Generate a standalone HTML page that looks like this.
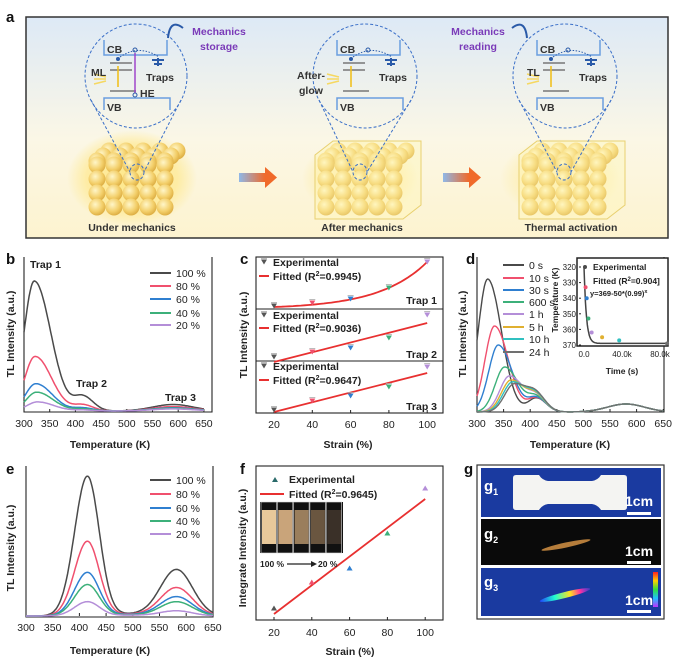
<!DOCTYPE html>
<html><head><meta charset="utf-8"><style>
html,body{margin:0;padding:0;background:#fff;}
svg{display:block;font-family:"Liberation Sans",Arial,sans-serif;}
.t{font-size:10.5px;font-weight:bold;fill:#222;}
.tk{font-size:10.5px;fill:#222;}
.L{font-size:15px;font-weight:bold;fill:#111;}
.ax{fill:none;stroke:#222;stroke-width:1.1;}
.bl{font-size:10.5px;font-weight:bold;fill:#333;}
</style></head><body>
<svg id="s" width="677" height="663" viewBox="0 0 677 663" xmlns="http://www.w3.org/2000/svg">
<defs>
<linearGradient id="bg" x1="0" y1="0" x2="0" y2="1"><stop offset="0" stop-color="#dde9f6"/><stop offset="0.55" stop-color="#fbf7e6"/><stop offset="1" stop-color="#fdf3cf"/></linearGradient>
<radialGradient id="sp" cx="0.4" cy="0.35" r="0.7"><stop offset="0" stop-color="#fff6c8"/><stop offset="0.6" stop-color="#f3cf6a"/><stop offset="1" stop-color="#d9a83c"/></radialGradient>
<radialGradient id="glow" cx="0.5" cy="0.5" r="0.5"><stop offset="0" stop-color="#ffe680" stop-opacity="0.9"/><stop offset="0.7" stop-color="#ffe680" stop-opacity="0.6"/><stop offset="1" stop-color="#ffe680" stop-opacity="0"/></radialGradient>
<linearGradient id="arr" x1="0" x2="1"><stop offset="0" stop-color="#8fb8e8"/><stop offset="1" stop-color="#f06a2a"/></linearGradient>
<linearGradient id="rb" x1="0" y1="0" x2="0" y2="1"><stop offset="0" stop-color="#ff2020"/><stop offset="0.25" stop-color="#ffd000"/><stop offset="0.5" stop-color="#30e040"/><stop offset="0.75" stop-color="#20c0ff"/><stop offset="1" stop-color="#c030ff"/></linearGradient>
<linearGradient id="st" x1="0" x2="1"><stop offset="0" stop-color="#2040ff"/><stop offset="0.3" stop-color="#20ffd0"/><stop offset="0.6" stop-color="#ffe020"/><stop offset="0.8" stop-color="#ff30a0"/><stop offset="1" stop-color="#a040ff" stop-opacity="0.3"/></linearGradient>
<marker id="ah" viewBox="0 0 6 6" refX="3" refY="3" markerWidth="5" markerHeight="5" orient="auto"><path d="M0,0L6,3L0,6z" fill="#222"/></marker>
</defs>
<rect width="677" height="663" fill="#fff"/>

<!-- Panel a -->
<text class="L" x="6" y="22">a</text>
<rect x="26" y="17" width="642" height="221" fill="url(#bg)" stroke="#333" stroke-width="1.5"/>
<ellipse cx="132" cy="178" rx="65" ry="48" fill="url(#glow)"/>
<ellipse cx="360" cy="178" rx="58" ry="40" fill="url(#glow)" opacity="0.6"/>
<ellipse cx="560" cy="178" rx="60" ry="40" fill="url(#glow)" opacity="0.5"/>
<g id="lat"></g>
<rect x="239" y="173" width="26" height="9" fill="url(#arr)"/><path d="M265,167L277,177.5L265,188z" fill="#f06a2a"/>
<rect x="443" y="173" width="26" height="9" fill="url(#arr)"/><path d="M469,167L481,177.5L469,188z" fill="#f06a2a"/>
<g id="mags" fill="none" stroke="#3a6fc8" stroke-width="1" stroke-dasharray="3,2"></g>
<g id="bands"></g>
<text class="bl" x="132" y="231" text-anchor="middle">Under mechanics</text>
<text class="bl" x="362" y="231" text-anchor="middle">After mechanics</text>
<text class="bl" x="571" y="231" text-anchor="middle">Thermal  activation</text>
<text x="219" y="35" text-anchor="middle" font-size="10.5" font-weight="bold" fill="#7a3ab8">Mechanics</text>
<text x="219" y="50" text-anchor="middle" font-size="10.5" font-weight="bold" fill="#7a3ab8">storage</text>
<text x="478" y="35" text-anchor="middle" font-size="10.5" font-weight="bold" fill="#7a3ab8">Mechanics</text>
<text x="478" y="50" text-anchor="middle" font-size="10.5" font-weight="bold" fill="#7a3ab8">reading</text>
<path d="M168,38 Q170,18 183,28" fill="none" stroke="#2a5aa8" stroke-width="2"/>
<path d="M527,38 Q525,18 512,28" fill="none" stroke="#2a5aa8" stroke-width="2"/>

<!-- Panel b -->
<text class="L" x="6" y="264">b</text>
<path class="ax" d="M24,257V412H212V257"/>
<text class="t" transform="translate(14,334) rotate(-90)" text-anchor="middle">TL Intensity (a.u.)</text>
<text class="t" x="110" y="448" text-anchor="middle">Temperature (K)</text>
<g id="bt"></g><g id="bc"></g>
<text class="t" x="30" y="268">Trap 1</text>
<text class="t" x="76" y="387">Trap 2</text>
<text class="t" x="165" y="401">Trap 3</text>
<g id="bleg"></g>

<!-- Panel c -->
<text class="L" x="240" y="264">c</text>
<rect class="ax" x="256" y="257" width="187" height="156"/>
<line class="ax" x1="256" y1="309" x2="443" y2="309"/><line class="ax" x1="256" y1="361" x2="443" y2="361"/>
<text class="t" transform="translate(247,335) rotate(-90)" text-anchor="middle">TL Intensity (a.u.)</text>
<text class="t" x="348" y="448" text-anchor="middle">Strain (%)</text>
<g id="cc"></g>
<text class="t" x="437" y="304" text-anchor="end" font-size="11">Trap 1</text>
<text class="t" x="437" y="358" text-anchor="end" font-size="11">Trap 2</text>
<text class="t" x="437" y="410" text-anchor="end" font-size="11">Trap 3</text>

<!-- Panel d -->
<text class="L" x="466" y="264">d</text>
<path class="ax" d="M477,257V412H664V257"/>
<text class="t" transform="translate(466,334) rotate(-90)" text-anchor="middle">TL Intensity (a.u.)</text>
<text class="t" x="570" y="448" text-anchor="middle">Temperature (K)</text>
<g id="dt"></g><g id="dc"></g><g id="dleg"></g>
<rect x="577" y="258" width="91" height="88" fill="#fff" stroke="#222" stroke-width="1.5"/>
<g id="di"></g>
<text x="593" y="270" font-size="8.5" fill="#222" font-weight="bold">Experimental</text>
<text x="593" y="284" font-size="8.5" fill="#222" font-weight="bold">Fitted (R<tspan font-size="6" dy="-3">2</tspan><tspan dy="3">=0.904]</tspan></text>
<text x="590" y="296" font-size="7.5" fill="#222" font-weight="bold">y=369-50*(0.99)<tspan font-size="5.5" dy="-3">x</tspan></text>
<text transform="translate(558,300) rotate(-90)" text-anchor="middle" font-size="8.5" font-weight="bold" fill="#222">Temperature (K)</text>
<text x="622" y="374" text-anchor="middle" font-size="8.5" font-weight="bold" fill="#222">Time (s)</text>

<!-- Panel e -->
<text class="L" x="6" y="474">e</text>
<path class="ax" d="M26,466V617H213V466"/>
<text class="t" transform="translate(14,548) rotate(-90)" text-anchor="middle">TL Intensity (a.u.)</text>
<text class="t" x="110" y="654" text-anchor="middle">Temperature (K)</text>
<g id="et"></g><g id="ec"></g><g id="eleg"></g>

<!-- Panel f -->
<text class="L" x="240" y="474">f</text>
<rect class="ax" x="256" y="466" width="187" height="154"/>
<text class="t" transform="translate(246,548) rotate(-90)" text-anchor="middle">Integrate Intensity (a.u.)</text>
<text class="t" x="350" y="655" text-anchor="middle">Strain (%)</text>
<g id="fc"></g>
<text class="t" x="289" y="483">Experimental</text>
<line x1="260" y1="494" x2="284" y2="494" stroke="#e83030" stroke-width="2"/>
<text class="t" x="289" y="498">Fitted (R<tspan font-size="7" dy="-4">2</tspan><tspan dy="4">=0.9645)</tspan></text>
<g id="photo"></g>
<text x="260" y="567" font-size="8.5" font-weight="bold" fill="#222">100 %</text>
<line x1="287" y1="564" x2="314" y2="564" stroke="#222" stroke-width="1.2" marker-end="url(#ah)"/>
<text x="318" y="567" font-size="8.5" font-weight="bold" fill="#222">20 %</text>

<!-- Panel g -->
<text class="L" x="464" y="474">g</text>
<rect x="477" y="465" width="187" height="154" fill="#fff" stroke="#333" stroke-width="1.2"/>
<rect x="481" y="468" width="180" height="49" fill="#1a3aa0"/>
<rect x="481" y="519" width="180" height="46" fill="#0a0a0a"/>
<rect x="481" y="568" width="180" height="48" fill="#1a3aa0"/>
<path d="M516,475H539Q542,480 548,481H592Q598,480 601,475H624Q627,475 627,478V507Q627,510 624,510H601Q598,505 592,504H548Q542,505 539,510H516Q513,510 513,507V478Q513,475 516,475z" fill="#f4f4f2"/>
<text x="484" y="491" font-size="15" font-weight="bold" fill="#fff">g<tspan font-size="9" dy="4">1</tspan></text>
<text x="484" y="539" font-size="15" font-weight="bold" fill="#fff">g<tspan font-size="9" dy="4">2</tspan></text>
<text x="484" y="587" font-size="15" font-weight="bold" fill="#fff">g<tspan font-size="9" dy="4">3</tspan></text>
<text x="625" y="506" font-size="14" font-weight="bold" fill="#fff">1cm</text>
<rect x="627" y="512" width="24" height="3" fill="#fff"/>
<text x="625" y="556" font-size="14" font-weight="bold" fill="#fff">1cm</text>
<rect x="627" y="561" width="24" height="3" fill="#fff"/>
<text x="625" y="605" font-size="14" font-weight="bold" fill="#fff">1cm</text>
<rect x="627" y="610" width="24" height="3" fill="#fff"/>
<ellipse cx="566" cy="545" rx="25" ry="2.5" fill="#c88a40" transform="rotate(-12 566 545)" opacity="0.9"/>
<ellipse cx="565" cy="595" rx="26" ry="3" fill="url(#st)" transform="rotate(-14 565 595)"/>
<rect x="653" y="572" width="5" height="35" fill="url(#rb)"/>
</svg>
<script>
var NS="http://www.w3.org/2000/svg";
function el(p,t,a,txt){var e=document.createElementNS(NS,t);for(var k in a)e.setAttribute(k,a[k]);if(txt!=null)e.textContent=txt;document.getElementById(p).appendChild(e);return e;}
function ag(x,m,sl,sr){var s=x<m?sl:sr;return Math.exp(-(x-m)*(x-m)/(2*s*s));}
function path(f,X,a,b){var d="";for(var T=a;T<=b;T+=2){d+=(d?"L":"M")+X(T).toFixed(1)+","+f(T).toFixed(1);}return d;}
function lattice(x0,y0,box){
 for(var k=2;k>=0;k--){for(var c=0;c<5;c++){el("lat","circle",{cx:x0+c*17+k*6+8,cy:y0-k*5+8,r:8.5,fill:"url(#sp)"});}}
 for(var r=0;r<4;r++){for(var c=0;c<5;c++){el("lat","circle",{cx:x0+c*17+8,cy:y0+8+r*14+4,r:8.5,fill:"url(#sp)"});}}
 if(box){el("lat","path",{d:"M"+(x0-3)+","+(y0+2)+"l18,-14h88l0,64l-18,14h-88z",fill:"#fff6b0","fill-opacity":0.35,stroke:"#e8d070","stroke-width":1});}
}
lattice(89,153,false);lattice(318,153,true);lattice(522,153,true);
[[136,137],[365,360],[565,564]].forEach(function(p,i){
 var cx=p[0],sx=p[1];
 var rx=i==0?51:52;
 el("mags","ellipse",{cx:cx,cy:76,rx:rx,ry:52});
 el("mags","ellipse",{cx:sx,cy:172,rx:7,ry:8});
 el("mags","line",{x1:cx-rx+6,y1:100,x2:sx-7,y2:172});
 el("mags","line",{x1:cx+rx-6,y1:100,x2:sx+7,y2:172});
 var L=(i==0?104:cx-28);
 el("bands","path",{d:"M"+L+",40V55H"+(L+63)+"V40",fill:"none",stroke:"#6a9ee0","stroke-width":1.5});
 el("bands","path",{d:"M"+L+",110V98H"+(L+66)+"V110",fill:"none",stroke:"#6a9ee0","stroke-width":1.5});
 el("bands","text",{x:L+3,y:53,"class":"bl"},"CB");
 el("bands","text",{x:L+3,y:111,"class":"bl"},"VB");
 el("bands","line",{x1:L+6,y1:63,x2:L+28,y2:63,stroke:"#777","stroke-width":1.5});
 el("bands","line",{x1:L+6,y1:70,x2:L+28,y2:70,stroke:"#777","stroke-width":1.5});
 el("bands","line",{x1:L+6,y1:91,x2:L+32,y2:91,stroke:"#777","stroke-width":1.5});
 el("bands","line",{x1:L+14,y1:66,x2:L+14,y2:87,stroke:"#f0c020","stroke-width":1.6});
 el("bands","circle",{cx:L+14,cy:59,r:2,fill:"#2a5aa8"});
 el("bands","circle",{cx:L+31,cy:50,r:2,fill:"none",stroke:"#2a5aa8"});
 el("bands","path",{d:"M"+(L+16)+",57Q"+(L+35)+",44 "+(L+55)+",57",fill:"none",stroke:"#2a5aa8","stroke-dasharray":"1.5,1.5"});
 el("bands","path",{d:"M"+(L+48)+",60h12M"+(L+50)+",64h8M"+(L+54)+",58v8",stroke:"#2a5aa8","stroke-width":2});
 el("bands","text",{x:L+42,y:81,"class":"bl"},"Traps");
 el("bands","path",{d:"M"+(L+2)+",77l-12,-3M"+(L+2)+",79l-12,0M"+(L+2)+",81l-12,3",stroke:"#f6d860","stroke-width":1.5});
 if(i==0){el("bands","line",{x1:L+31,y1:93,x2:L+31,y2:53,stroke:"#9a3ac8","stroke-width":1.4});
   el("bands","circle",{cx:L+31,cy:95,r:2,fill:"none",stroke:"#2a5aa8"});
   el("bands","text",{x:L-13,y:76,"class":"bl"},"ML");el("bands","text",{x:L+36,y:97,"class":"bl"},"HE");}
 if(i==1){el("bands","text",{x:L-40,y:79,"class":"bl"},"After-");el("bands","text",{x:L-38,y:94,"class":"bl"},"glow");}
 if(i==2){el("bands","text",{x:L-10,y:76,"class":"bl"},"TL");}
});
var C5=["#4a4a4a","#f0506e","#2f7fd0","#3cb07a","#b48ed8"],P5=["100 %","80 %","60 %","40 %","20 %"];
function ticks(g,X,y){for(var T=300;T<=650;T+=50){el(g,"line",{x1:X(T),y1:y,x2:X(T),y2:y-3,stroke:"#222"});el(g,"text",{x:X(T),y:y+15,"class":"tk","text-anchor":"middle"},T);}}
function leg(g,x,ys,cols,labs){ys.forEach(function(y,i){el(g,"line",{x1:x,y1:y,x2:x+21,y2:y,stroke:cols[i],"stroke-width":2});el(g,"text",{x:x+26,y:y+4,"class":"tk"},labs[i]);});}
var Xb=function(T){return 24+(T-300)*0.514;};
ticks("bt",Xb,412);
[1,0.42,0.21,0.145,0.07].forEach(function(s,i){
 var A=130*s,pk=320+i*1.5;
 el("bc","path",{d:path(function(T){return 411-A*ag(T,pk,20,32)-A*0.11*ag(T,415,18,20)-(6*Math.sqrt(s)+0.5)*ag(T,590,40,40);},Xb,300,650),fill:"none",stroke:C5[i],"stroke-width":1.5});});
leg("bleg",150,[273,286,299,313,325],C5,P5);
var Xc=function(s){return 274+(s-20)*1.915;};
[20,40,60,80,100].forEach(function(s){el("cc","line",{x1:Xc(s),y1:413,x2:Xc(s),y2:410,stroke:"#222"});el("cc","text",{x:Xc(s),y:428,"class":"tk","text-anchor":"middle"},s);});
var d1="";for(var s=20;s<=100;s+=2){d1+=(d1?"L":"M")+Xc(s).toFixed(1)+","+(307-1.915*(Math.exp(0.04*(s-20))-1)).toFixed(1);}
el("cc","path",{d:d1,fill:"none",stroke:"#e83030","stroke-width":1.8});
el("cc","line",{x1:Xc(20),y1:362,x2:Xc(100),y2:323,stroke:"#e83030","stroke-width":1.8});
el("cc","line",{x1:Xc(20),y1:412,x2:Xc(100),y2:373,stroke:"#e83030","stroke-width":1.8});
var pc=["#555","#f0506e","#2f7fd0","#3cb07a","#b48ed8"];
function mk(g,x,y,c){el(g,"path",{d:"M"+(x-3)+","+(y-2.5)+"h6l-3,5z",fill:c});el(g,"line",{x1:x-3,y1:y-3.5,x2:x+3,y2:y-3.5,stroke:"#aaa","stroke-width":0.8});}
[[306,303,299,288,262],[357,352,348,338,315],[410,401,396,387,367]].forEach(function(ys){ys.forEach(function(y,i){mk("cc",Xc(20+20*i),y,pc[i]);});});
var r2=["0.9945)","0.9036)","0.9647)"];
[[265,279],[318,331],[369,383]].forEach(function(p,i){mk("cc",264,p[0]-3,"#555");el("cc","text",{x:273,y:p[0]+1,"class":"t"},"Experimental");
 el("cc","line",{x1:259,y1:p[1]-3,x2:269,y2:p[1]-3,stroke:"#e83030","stroke-width":2});
 var t=el("cc","text",{x:273,y:p[1]+1,"class":"t"},"Fitted (R");
 var a=document.createElementNS(NS,"tspan");a.setAttribute("font-size","7");a.setAttribute("dy","-4");a.textContent="2";t.appendChild(a);
 var b=document.createElementNS(NS,"tspan");b.setAttribute("dy","4");b.textContent="="+r2[i];t.appendChild(b);});
var Xd=function(T){return 477+(T-300)*0.532;};
ticks("dt",Xd,412);
var C8=["#4a4a4a","#f0506e","#2f7fd0","#3cb07a","#b48ed8","#e0b030","#30c0c0","#707070"];
var A8=[133,86,67,45,36,32,30,28],M8=[320,333,340,352,361,364,367,370];
A8.forEach(function(A,i){el("dc","path",{d:path(function(T){return 412-A*ag(T,M8[i],18,26)-14*ag(T,412,16,18)-8*ag(T,580,35,35);},Xd,300,650),fill:"none",stroke:C8[i],"stroke-width":1.4});});
leg("dleg",503,[265,278,290,302,314,327,339,352],C8,["0 s","10 s","30 s","600 s","1 h","5 h","10 h","24 h"]);
var Xi=function(t){return 584+t*0.95/1000;},Yi=function(T){return 267+(T-320)*1.56;};
[320,330,340,350,360,370].forEach(function(T){el("di","line",{x1:579,y1:Yi(T),x2:581,y2:Yi(T),stroke:"#222"});el("di","text",{x:576,y:Yi(T)+3,"font-size":8,"text-anchor":"end",fill:"#222"},T);});
[[0,"0.0"],[40000,"40.0k"],[80000,"80.0k"]].forEach(function(p){el("di","text",{x:Xi(p[0]),y:357,"font-size":8,"text-anchor":"middle",fill:"#222"},p[1]);});
var di="";for(var t=0;t<=88000;t+=500){di+=(di?"L":"M")+Xi(t).toFixed(1)+","+Yi(369-49*Math.exp(-t/2500)).toFixed(1);}
el("di","path",{d:di,fill:"none",stroke:"#444","stroke-width":1.5});
[[0,320],[600,333],[1800,340],[3600,353],[7000,362],[18000,365],[36000,367],[86400,369]].forEach(function(p,i){el("di","circle",{cx:Xi(p[0])+1,cy:Yi(p[1]),r:2,fill:C8[i]});});
var Xe=function(T){return 26+(T-300)*0.534;};
ticks("et",Xe,616);
[[139,46],[74,28],[43,19],[31,14],[14,5]].forEach(function(a,i){
 el("ec","path",{d:path(function(T){return 616-a[0]*ag(T,415,24,22)-a[1]*ag(T,582,30,30)-2*ag(T,490,60,60)*(1-i*0.15);},Xe,300,650),fill:"none",stroke:C5[i],"stroke-width":1.5});});
leg("eleg",150,[480,494,508,521,534],C5,P5);
var Xf=function(s){return 274+(s-20)*1.89;};
[20,40,60,80,100].forEach(function(s){el("fc","line",{x1:Xf(s),y1:620,x2:Xf(s),y2:617,stroke:"#222"});el("fc","text",{x:Xf(s),y:636,"class":"tk","text-anchor":"middle"},s);});
el("fc","line",{x1:Xf(20),y1:614,x2:Xf(100),y2:499,stroke:"#e83030","stroke-width":1.8});
[608,582,568,533,488].forEach(function(y,i){el("fc","path",{d:"M"+(Xf(20+20*i)-3)+","+(y+2.5)+"h6l-3,-5z",fill:pc[i]});});
el("fc","path",{d:"M272,482h6l-3,-5z",fill:"#2a6a6a"});
var pcol=["#e8c89a","#c9a47a","#9a7e5c","#6a5640","#3a3028"];
el("photo","rect",{x:260,y:502,width:83,height:51,fill:"#111"});
pcol.forEach(function(c,i){el("photo","rect",{x:262+i*16.3,y:510,width:14,height:34,fill:c});el("photo","rect",{x:261+i*16.3,y:502,width:15.5,height:51,fill:"none",stroke:"#ddd","stroke-width":0.6});});
</script>
</body></html>
